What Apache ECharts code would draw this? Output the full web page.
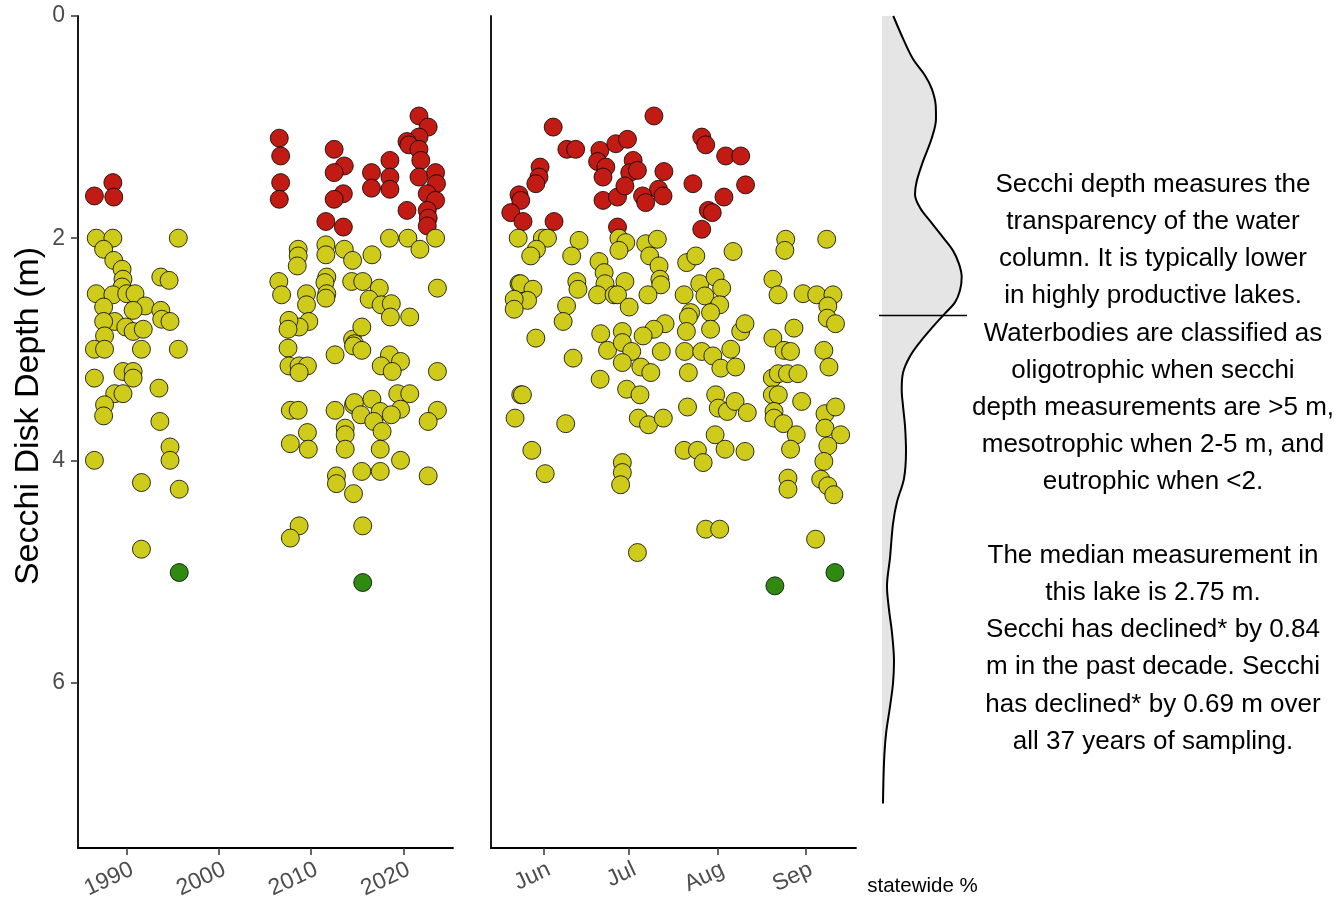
<!DOCTYPE html>
<html><head><meta charset="utf-8">
<script src="https://cdn.jsdelivr.net/npm/echarts@6/dist/echarts.min.js"></script>
<style>html,body{margin:0;padding:0;background:#fff}#c{width:1334px;height:902px}</style>
</head><body><div id="c"></div>
<script>
// ---- tick labels ----
const depthTicks = [0, 2, 4, 6];
const yearTicks = [1990, 2000, 2010, 2020];
const monthTicks = [152, 182, 213, 244];          // day of year of the 1st of each month
const monthLabels = ['Jun', 'Jul', 'Aug', 'Sep'];

// ---- measurements by year: [year, secchi depth m] ----
const byYear = [
 [1986.5,1.62],[1988.5,1.50],[1988.6,1.63],
 [1986.7,2.00],[1988.5,2.00],[1995.6,2.00],[1987.5,2.10],[1988.6,2.20],[1989.5,2.28],[1989.6,2.37],[1989.5,2.44],
 [1993.7,2.35],[1994.6,2.38],[1986.7,2.50],[1988.5,2.51],[1990.0,2.50],[1990.9,2.50],[1992.0,2.61],[1987.5,2.62],
 [1990.7,2.65],[1993.7,2.65],[1993.8,2.73],[1994.7,2.75],[1988.7,2.75],[1987.5,2.75],[1989.9,2.80],[1990.7,2.84],
 [1991.8,2.82],[1987.6,2.88],[1986.5,3.00],[1987.6,3.00],[1991.6,3.00],[1995.6,3.00],[1986.5,3.26],[1989.6,3.20],
 [1990.7,3.20],[1990.7,3.26],[1993.5,3.35],[1988.7,3.40],[1989.6,3.40],[1987.6,3.50],[1987.5,3.60],[1993.6,3.65],
 [1994.7,3.88],[1994.7,4.00],[1986.5,4.00],[1991.6,4.20],[1995.7,4.26],[1991.6,4.80],[1995.7,5.01],
 [2006.55,1.10],[2006.7,1.26],[2006.7,1.50],[2006.55,1.65],[2012.5,1.20],[2013.6,1.35],[2012.5,1.41],[2013.5,1.60],
 [2012.5,1.65],[2011.6,1.85],[2013.5,1.90],
 [2008.6,2.10],[2008.6,2.16],[2008.5,2.25],[2011.6,2.06],[2011.6,2.15],[2013.6,2.10],[2014.5,2.20],[2006.5,2.39],
 [2006.8,2.51],[2011.7,2.35],[2011.5,2.40],[2011.7,2.50],[2011.6,2.54],[2014.4,2.39],[2009.5,2.50],[2009.5,2.60],
 [2009.75,2.75],[2008.7,2.80],[2007.6,2.74],[2007.5,2.82],[2007.5,2.99],[2007.6,3.15],[2008.7,3.15],[2009.6,3.15],
 [2008.7,3.21],[2012.6,3.05],[2014.5,2.91],[2014.7,2.95],[2014.6,2.97],[2007.75,3.55],[2008.6,3.55],[2012.6,3.55],
 [2014.6,3.50],[2013.7,3.71],[2013.7,3.77],[2009.6,3.75],[2007.75,3.85],[2009.7,3.90],[2013.7,3.90],[2012.75,4.14],
 [2012.75,4.21],[2014.6,4.30],[2008.7,4.59],[2007.75,4.70],
 [2021.7,0.90],[2022.7,1.00],[2021.7,1.09],[2020.4,1.13],[2020.6,1.16],[2021.7,1.20],[2021.9,1.30],[2018.55,1.30],
 [2016.55,1.41],[2018.55,1.45],[2021.7,1.45],[2023.5,1.41],[2023.6,1.51],[2016.55,1.55],[2018.55,1.56],[2022.6,1.60],
 [2023.5,1.66],[2020.4,1.75],[2022.6,1.75],[2022.7,1.82],[2022.6,1.89],
 [2018.5,2.00],[2020.5,2.00],[2023.5,2.00],[2021.8,2.10],[2016.6,2.15],[2023.7,2.45],[2015.6,2.39],[2017.4,2.45],
 [2016.3,2.55],[2017.6,2.60],[2018.7,2.59],[2018.6,2.71],[2020.7,2.71],[2015.5,2.80],[2015.5,3.01],[2018.5,3.05],
 [2019.7,3.11],[2017.6,3.15],[2018.8,3.20],[2023.7,3.20],[2019.4,3.40],[2020.7,3.40],[2014.7,3.48],[2016.6,3.45],
 [2019.7,3.54],[2023.7,3.55],[2022.7,3.65],[2015.4,3.59],[2017.5,3.56],[2018.7,3.59],[2016.8,3.65],[2017.7,3.74],
 [2017.5,3.90],[2019.7,4.00],[2015.5,4.10],[2017.5,4.10],[2022.7,4.14],[2015.6,4.59],[2015.6,5.10]
];

// ---- measurements by day of year: [day of year, secchi depth m] ----
const byDay = [
 [155.3,1.00],[160.1,1.20],[163.2,1.20],[150.7,1.36],[150.3,1.45],[149.2,1.51],[143.3,1.61],[143.9,1.66],[140.4,1.77],
 [144.7,1.85],[155.6,1.85],[171.7,1.21],[170.9,1.31],[173.8,1.36],[172.8,1.45],[172.8,1.66],[177.3,1.15],[177.9,1.63],
 [177.9,1.90],[190.7,0.90],[181.4,1.11],[207.5,1.09],[208.9,1.16],[215.9,1.26],[221.2,1.26],[183.4,1.30],[194.2,1.40],
 [182.2,1.41],[184.9,1.39],[180.5,1.53],[204.4,1.51],[192.3,1.56],[186.7,1.62],[193.9,1.62],[187.8,1.68],[215.3,1.63],
 [209.8,1.75],[211.2,1.77],[207.5,1.92],[222.9,1.52],
 [143.0,2.00],[151.5,2.00],[153.3,2.00],[149.4,2.10],[147.4,2.16],[164.4,2.02],[161.8,2.16],[171.4,2.21],[173.2,2.31],
 [143.3,2.41],[143.8,2.41],[148.2,2.46],[146.3,2.56],[141.6,2.55],[141.6,2.64],[163.6,2.39],[164.0,2.46],[173.5,2.41],
 [170.9,2.51],[176.7,2.51],[160.0,2.61],[158.8,2.75],[149.2,2.90],[172.0,2.86],[174.4,3.01],[162.3,3.08],[171.8,3.27],
 [143.9,3.41],[144.5,3.41],[141.9,3.62],[159.7,3.67],[147.8,3.91],[152.5,4.12],
 [178.4,2.00],[180.8,2.04],[178.4,2.11],[187.8,2.05],[191.9,2.01],[189.2,2.16],[192.5,2.25],[202.2,2.22],[205.4,2.16],
 [218.5,2.12],[192.8,2.37],[193.1,2.42],[180.5,2.39],[177.9,2.51],[182.0,2.62],[188.6,2.51],[201.3,2.51],[206.8,2.41],
 [212.2,2.35],[208.6,2.52],[214.5,2.45],[213.8,2.60],[210.6,2.67],[203.6,2.67],[202.8,2.71],[202.1,2.84],[210.6,2.82],
 [194.6,2.77],[190.7,2.82],[186.9,2.88],[179.6,2.84],[179.6,2.94],[182.9,3.02],[179.6,3.12],[193.3,3.02],[201.5,3.02],
 [207.5,3.02],[211.4,3.06],[217.7,3.00],[221.2,2.84],[186.1,3.16],[189.6,3.21],[202.8,3.21],[214.2,3.17],[219.4,3.16],
 [181.1,3.36],[185.8,3.41],[202.5,3.52],[212.4,3.41],[213.3,3.53],[216.5,3.56],[219.2,3.47],[185.2,3.62],[188.8,3.68],
 [194.0,3.62],[212.2,3.77],[215.7,3.90],[201.3,3.91],[206.0,3.91],[208.0,4.02],[179.6,4.02],[179.6,4.11],
 [179.0,4.22],[208.9,4.62],[213.8,4.62],[184.9,4.83],
 [237.0,2.01],[236.7,2.11],[251.4,2.01],[232.5,2.37],[234.3,2.51],[243.1,2.50],[247.9,2.51],[253.6,2.51],[251.8,2.61],
 [251.6,2.72],[254.5,2.77],[222.7,2.77],[239.9,2.81],[232.5,2.90],[236.4,3.01],[238.7,3.02],[250.4,3.01],[252.2,3.16],
 [232.3,3.26],[234.4,3.22],[237.6,3.22],[241.3,3.22],[232.3,3.41],[234.4,3.41],[242.6,3.47],[223.5,3.57],[232.9,3.56],
 [232.9,3.62],[236.2,3.67],[240.7,3.77],[238.7,3.90],[250.8,3.58],[254.5,3.52],[250.8,3.71],[256.3,3.77],[251.8,3.87],
 [250.4,4.01],[222.7,3.92],[237.8,4.16],[237.8,4.26],[249.3,4.17],[251.8,4.23],[253.9,4.31],[247.5,4.71],[254.3,5.01],
 [233.2,5.13]
];

// ---- statewide density of secchi depth: [relative density, depth m] ----
const statewideDensity = [
 [0.113,0.00],[0.213,0.21],[0.31,0.39],[0.43,0.54],[0.497,0.66],[0.537,0.81],[0.54,0.93],[0.497,1.11],[0.41,1.32],
 [0.347,1.50],[0.33,1.62],[0.38,1.74],[0.48,1.86],[0.61,2.01],[0.71,2.13],[0.77,2.25],[0.797,2.37],[0.78,2.49],
 [0.73,2.60],[0.63,2.70],[0.51,2.82],[0.38,2.96],[0.28,3.09],[0.21,3.24],[0.197,3.39],[0.21,3.54],[0.23,3.72],
 [0.24,3.95],[0.22,4.20],[0.15,4.41],[0.11,4.61],[0.08,4.92],[0.05,5.18],[0.07,5.39],[0.10,5.60],[0.12,5.86],
 [0.11,6.06],[0.08,6.27],[0.04,6.52],[0.02,6.78],[0.01,7.15]
];
const medianDepth = 2.72;
const medianSpan = [-0.03, 0.85];

const noteLines = [
 'Secchi depth measures the', 'transparency of the water', 'column. It is typically lower',
 'in highly productive lakes.', 'Waterbodies are classified as', 'oligotrophic when secchi',
 'depth measurements are >5 m,', 'mesotrophic when 2-5 m, and', 'eutrophic when <2.', '',
 'The median measurement in', 'this lake is 2.75 m.', 'Secchi has declined* by 0.84',
 'm in the past decade. Secchi', 'has declined* by 0.69 m over', 'all 37 years of sampling.'
];

const RED = '#C21B13', YELLOW = '#CFCB1A', GREEN = '#2F8A0F';
function trophicColor(d) { return d < 2 ? RED : (d > 5 ? GREEN : YELLOW); }

const FONT = '"Liberation Sans", Arial, Helvetica, sans-serif';
const DEPTH_MAX = 7.49;
const axisLineStyle = { show: true, onZero: false, lineStyle: { color: '#000', width: 1.8 } };
const tickStyle = { show: true, length: 7, lineStyle: { color: '#333', width: 1.5 } };
const labelStyle = { color: '#4D4D4D', fontSize: 23, fontFamily: FONT };
const xLabelStyle = Object.assign({ rotate: 25, margin: 23, align: 'right', padding: [0, -6, 0, 0] }, labelStyle);

const chart = echarts.init(document.getElementById('c'));
const scatterStyle = {
  type: 'scatter', symbol: 'circle', symbolSize: 18, silent: true,
  itemStyle: { color: p => trophicColor(p.value[1]), borderColor: '#000', borderWidth: 0.8, opacity: 1 }
};

chart.setOption({
  animation: false,
  backgroundColor: '#fff',
  grid: [
    { left: 78, top: 16, width: 375, height: 832 },
    { left: 491, top: 16, width: 365, height: 832 },
    { left: 877, top: 16, width: 91, height: 832 }
  ],
  xAxis: [
    { gridIndex: 0, type: 'value', min: 1984.72, max: 2025.39, position: 'bottom',
      axisLine: axisLineStyle, axisTick: Object.assign({ customValues: yearTicks }, tickStyle),
      axisLabel: Object.assign({ customValues: yearTicks, formatter: v => String(Math.round(v)) }, xLabelStyle),
      splitLine: { show: false } },
    { gridIndex: 1, type: 'value', min: 133.45, max: 261.7, position: 'bottom',
      axisLine: axisLineStyle, axisTick: Object.assign({ customValues: monthTicks }, tickStyle),
      axisLabel: Object.assign({ customValues: monthTicks,
        formatter: v => monthLabels[monthTicks.indexOf(Math.round(v))] || '' }, xLabelStyle),
      splitLine: { show: false } },
    { gridIndex: 2, type: 'value', min: -0.05, max: 0.86, position: 'bottom',
      axisLine: { show: false, onZero: false }, axisTick: { show: false }, axisLabel: { show: false }, splitLine: { show: false },
      name: 'statewide %', nameLocation: 'middle', nameGap: 35,
      nameTextStyle: { color: '#000', fontSize: 20.5, fontFamily: FONT } }
  ],
  yAxis: [
    { gridIndex: 0, type: 'value', inverse: true, min: 0, max: DEPTH_MAX,
      axisLine: axisLineStyle, axisTick: Object.assign({ customValues: depthTicks }, tickStyle),
      axisLabel: Object.assign({ customValues: depthTicks, margin: 13 }, labelStyle),
      splitLine: { show: false } },
    { gridIndex: 1, type: 'value', inverse: true, min: 0, max: DEPTH_MAX,
      axisLine: axisLineStyle, axisTick: { show: false }, axisLabel: { show: false }, splitLine: { show: false } },
    { gridIndex: 2, type: 'value', inverse: true, min: 0, max: DEPTH_MAX, show: false }
  ],
  series: [
    Object.assign({ xAxisIndex: 0, yAxisIndex: 0, data: byYear }, scatterStyle),
    Object.assign({ xAxisIndex: 1, yAxisIndex: 1, data: byDay }, scatterStyle),
    { type: 'custom', xAxisIndex: 2, yAxisIndex: 2, silent: true, data: [[0, 0]], clip: false,
      renderItem: function (params, api) {
        const first = statewideDensity[0], last = statewideDensity[statewideDensity.length - 1];
        const pts = [api.coord([0, first[1]])];
        statewideDensity.forEach(p => pts.push(api.coord(p)));
        pts.push(api.coord([0, last[1]]));
        return { type: 'polygon', shape: { points: pts, smooth: 0 }, style: { fill: '#E5E5E5', stroke: null } };
      } },
    { type: 'line', xAxisIndex: 2, yAxisIndex: 2, data: statewideDensity, symbol: 'none', silent: true,
      smooth: 0.35, clip: false, lineStyle: { color: '#000', width: 2 } },
    { type: 'line', xAxisIndex: 2, yAxisIndex: 2, symbol: 'none', silent: true, clip: false,
      data: [[medianSpan[0], medianDepth], [medianSpan[1], medianDepth]],
      lineStyle: { color: '#000', width: 1.5 } }
  ],
  graphic: [
    { type: 'text', x: 29, y: 416, rotation: Math.PI / 2, silent: true,
      style: { text: 'Secchi Disk Depth (m)', fill: '#000', font: '34px ' + FONT, textAlign: 'center', textVerticalAlign: 'middle' } }
  ].concat(noteLines.map((t, i) => ({
    type: 'text', x: 1153, y: 185 + i * 37.1, silent: true,
    style: { text: t, fill: '#000', font: '26px ' + FONT, textAlign: 'center', textVerticalAlign: 'middle' }
  })))
});
</script></body></html>
